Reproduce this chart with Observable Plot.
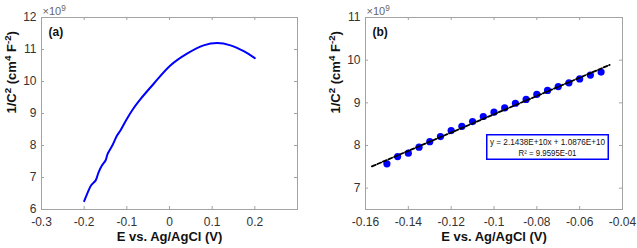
<!DOCTYPE html>
<html>
<head>
<meta charset="utf-8">
<script src="https://cdn.jsdelivr.net/npm/d3@7"></script>
<script src="https://cdn.jsdelivr.net/npm/@observablehq/plot@0.6"></script>
<style>
  html, body { margin: 0; padding: 0; background: #fff; }
  #wrap { position: relative; width: 637px; height: 248px; font-family: "Liberation Sans", Arial, sans-serif; }
  #wrap > div.panel { position: absolute; top: 0; }
  #legend { position: absolute; left: 486px; top: 134px; width: 123px; height: 26px; overflow: visible; }
</style>
</head>
<body>
<div id="wrap"></div>
<script>
// ---- Data ----
// Panel (a): Mott–Schottky curve (1/C^2 in units of 1e9 cm^4 F^-2)
const aPotential = [-0.200, -0.193, -0.184, -0.173, -0.166, -0.158, -0.150, -0.145, -0.134, -0.123, -0.115, -0.100, -0.085, -0.068, -0.037, 0.002, 0.041, 0.080, 0.112, 0.143, 0.174, 0.200];
const aInvC2    = [6.26, 6.49, 6.75, 6.91, 7.17, 7.38, 7.53, 7.74, 8.00, 8.31, 8.47, 8.83, 9.15, 9.45, 9.93, 10.50, 10.87, 11.13, 11.20, 11.13, 10.95, 10.73];

// Panel (b): linear region points
const bPotential = [-0.150, -0.145, -0.140, -0.135, -0.130, -0.125, -0.120, -0.115, -0.110, -0.105, -0.100, -0.095, -0.090, -0.085, -0.080, -0.075, -0.070, -0.065, -0.060, -0.055, -0.050];
const bInvC2    = [7.57, 7.74, 7.82, 7.96, 8.09, 8.21, 8.35, 8.45, 8.56, 8.68, 8.78, 8.88, 8.99, 9.08, 9.20, 9.29, 9.38, 9.47, 9.56, 9.65, 9.72];

// Linear fit shown in the chart
const fitSlope = 2.1438e10;
const fitIntercept = 1.0876e10;
const fitRange = [-0.157, -0.046];
const fitLabel = ["y = 2.1438E+10x + 1.0876E+10", "R\u00B2 = 9.9595E-01"];

// Axes
const aXTicks = [-0.3, -0.2, -0.1, 0, 0.1, 0.2];
const aYTicks = [6, 7, 8, 9, 10, 11, 12];
const bXTicks = [-0.16, -0.14, -0.12, -0.1, -0.08, -0.06, -0.04];
const bYTicks = [7, 8, 9, 10, 11];
const xLabel = "E vs. Ag/AgCl (V)";
const yLabel = "1/C^2 (cm^4 F^-2)";
const exponentLabel = "\u00D710^9";
const panelLabels = ["(a)", "(b)"];

// ---- Rendering ----
const tickColor = "#333";
const frameColor = "#a3a3a3";
const fmt = d => String(+d.toFixed(2));

function panel({width, marginLeft, marginRight, xDomain, yDomain, xTicks, yTicks, label, marks}) {
  const height = 248, marginTop = 17, marginBottom = 39;
  const fw = width - marginLeft - marginRight;
  const fh = height - marginTop - marginBottom;
  const t = 3;
  return Plot.plot({
    width, height, marginLeft, marginRight, marginTop, marginBottom,
    style: {fontFamily: "Liberation Sans, Arial, sans-serif", background: "#fff", overflow: "visible"},
    x: {domain: xDomain},
    y: {domain: yDomain},
    marks: [
      ...marks,
      Plot.frame({stroke: frameColor, strokeWidth: 1}),
      Plot.tickX(xTicks, {x: d => d, insetTop: fh - t, stroke: frameColor}),
      Plot.tickX(xTicks, {x: d => d, insetBottom: fh - t, stroke: frameColor}),
      Plot.tickY(yTicks, {y: d => d, insetRight: fw - t, stroke: frameColor}),
      Plot.tickY(yTicks, {y: d => d, insetLeft: fw - t, stroke: frameColor}),
      Plot.axisX(xTicks, {tickSize: 0, tickPadding: 8, tickFormat: fmt, fontSize: 12, fill: tickColor, label: null}),
      Plot.axisY(yTicks, {tickSize: 0, tickPadding: 5, tickFormat: fmt, fontSize: 12, fill: tickColor, label: null}),
      Plot.text([xLabel], {frameAnchor: "bottom", dy: 31, fontSize: 13, fontWeight: "bold", fill: "#111"}),
      Plot.text([yLabel], {frameAnchor: "left", dx: -30, rotate: -90, fontSize: 13, fontWeight: "bold", fill: "#111"}),
      Plot.text([exponentLabel], {frameAnchor: "top-left", dx: 1, dy: -3, lineAnchor: "bottom", textAnchor: "start", fontSize: 11, fill: "#666"}),
      Plot.text([label], {frameAnchor: "top-left", dx: 7, dy: 10, lineAnchor: "top", textAnchor: "start", fontSize: 12, fontWeight: "bold", fill: "#111"})
    ]
  });
}

// Convert "^x" markers in text to superscript tspans
function supify(svg) {
  svg.querySelectorAll("text").forEach(el => {
    if (el.querySelector("tspan")) return;
    const s = el.textContent;
    if (!s.includes("^")) return;
    el.textContent = "";
    const parts = s.split(/\^(-?\d)/);
    parts.forEach((p, i) => {
      if (!p) return;
      const ts = document.createElementNS("http://www.w3.org/2000/svg", "tspan");
      ts.textContent = p;
      if (i % 2 === 1) {
        ts.setAttribute("baseline-shift", "super");
        ts.setAttribute("font-size", "0.75em");
      }
      el.appendChild(ts);
    });
  });
}

const wrap = document.getElementById("wrap");

const aData = aPotential.map((x, i) => ({x, y: aInvC2[i]}));
const chartA = panel({
  width: 318, marginLeft: 41, marginRight: 21,
  xDomain: [-0.3, 0.3], yDomain: [6, 12],
  xTicks: aXTicks, yTicks: aYTicks, label: panelLabels[0],
  marks: [
    Plot.line(aData, {x: "x", y: "y", stroke: "#0000ff", strokeWidth: 2, curve: "catmull-rom"})
  ]
});

const bData = bPotential.map((x, i) => ({x, y: bInvC2[i]}));
const fitData = fitRange.map(x => ({x, y: (fitSlope * x + fitIntercept) / 1e9}));
const chartB = panel({
  width: 319, marginLeft: 47, marginRight: 15,
  xDomain: [-0.16, -0.04], yDomain: [6.5, 11],
  xTicks: bXTicks, yTicks: bYTicks, label: panelLabels[1],
  marks: [
    Plot.dot(bData, {x: "x", y: "y", r: 3.6, fill: "#0000ff", stroke: "none"}),
    Plot.line(fitData, {x: "x", y: "y", stroke: "#000", strokeWidth: 1.8, strokeDasharray: "4,2"})
  ]
});

[chartA, chartB].forEach(supify);

const pa = document.createElement("div"); pa.className = "panel"; pa.style.left = "0px"; pa.appendChild(chartA);
const pb = document.createElement("div"); pb.className = "panel"; pb.style.left = "318px"; pb.appendChild(chartB);
wrap.appendChild(pa); wrap.appendChild(pb);

// Fit-equation box
const NS = "http://www.w3.org/2000/svg";
const lg = document.createElementNS(NS, "svg");
lg.setAttribute("id", "legend");
lg.setAttribute("width", 123); lg.setAttribute("height", 26);
lg.innerHTML = `<rect x="0.75" y="0.75" width="121.5" height="24.5" fill="#fff" stroke="#0000ff" stroke-width="1.5"/>`;
const lines = [
  {s: fitLabel[0], y: 11, len: 115},
  {s: fitLabel[1], y: 21.5, len: 58}
];
lines.forEach(({s, y, len}) => {
  const t = document.createElementNS(NS, "text");
  t.setAttribute("x", 61.5); t.setAttribute("y", y);
  t.setAttribute("text-anchor", "middle");
  t.setAttribute("font-family", "Liberation Sans, Arial, sans-serif");
  t.setAttribute("font-size", "8.3");
  t.setAttribute("fill", "#111");
  t.setAttribute("textLength", len);
  t.setAttribute("lengthAdjust", "spacingAndGlyphs");
  t.textContent = s;
  lg.appendChild(t);
});
wrap.appendChild(lg);
</script>
</body>
</html>
